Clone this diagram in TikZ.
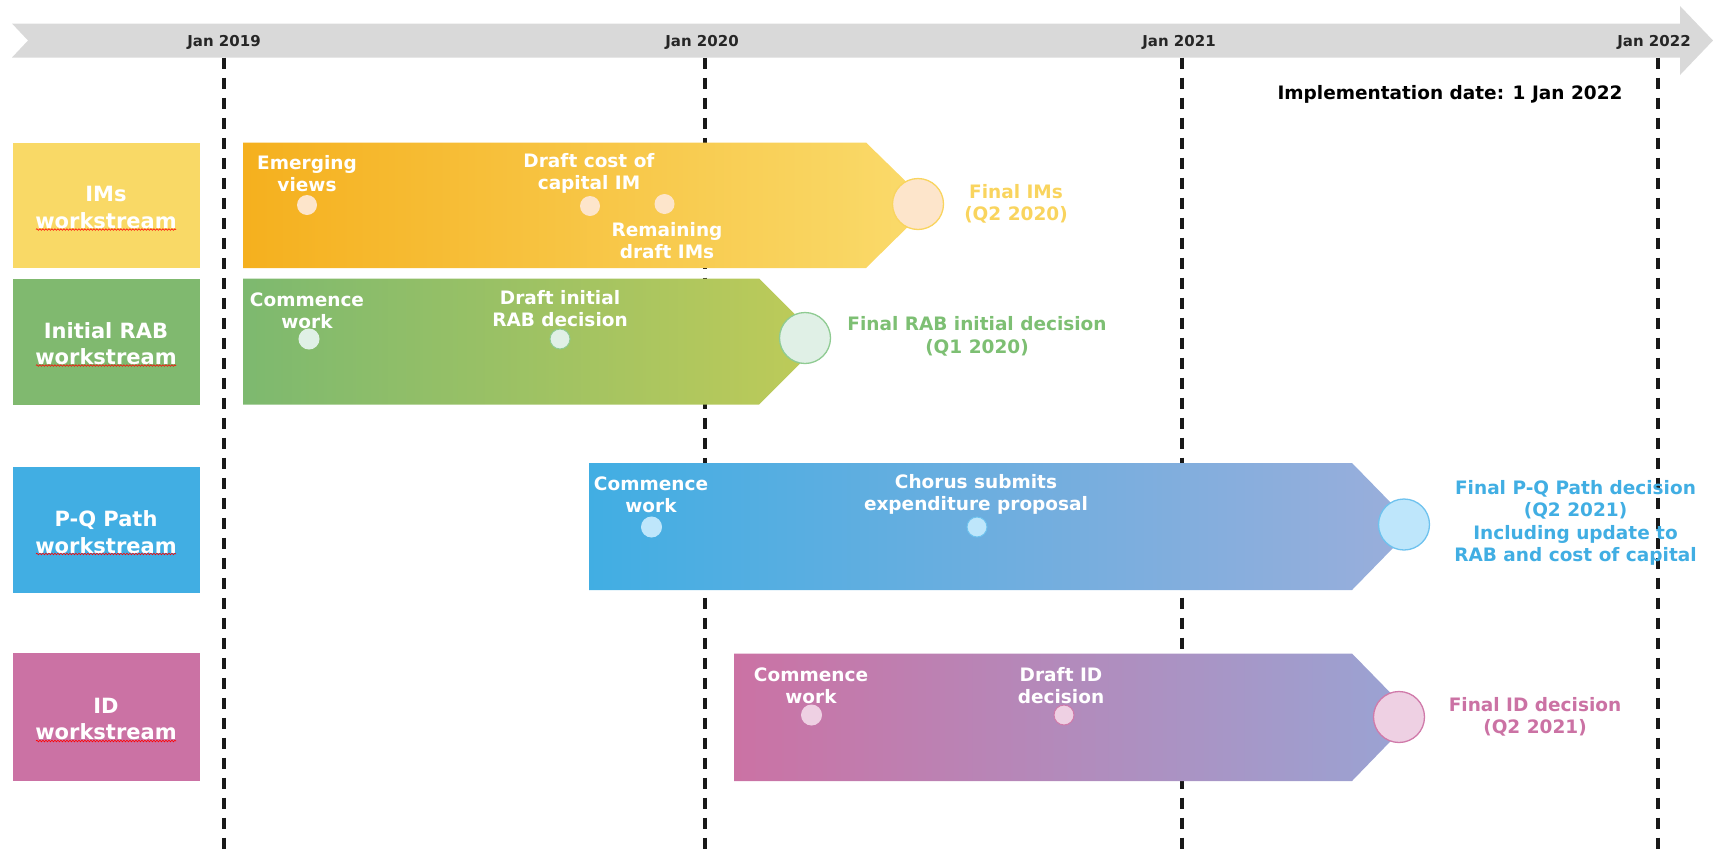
\documentclass[tikz,border=0pt]{standalone}
\usepackage{fontspec}
\setmainfont{DejaVu Sans}
\usetikzlibrary{calc,decorations.pathmorphing}
\definecolor{bandgray}{HTML}{D9D9D9}
\definecolor{imsbox}{HTML}{F9D966}
\definecolor{imsL}{HTML}{F5B01E}
\definecolor{imsR}{HTML}{FADB6C}
\definecolor{imstxt}{HTML}{F9D45E}
\definecolor{imsdot}{HTML}{FDE5CB}
\definecolor{rabbox}{HTML}{80B96F}
\definecolor{rabL}{HTML}{7DB96F}
\definecolor{rabR}{HTML}{BFCB58}
\definecolor{rabtxt}{HTML}{7DBF73}
\definecolor{rabdot}{HTML}{E0F0E6}
\definecolor{rabline}{HTML}{8FCB92}
\definecolor{pqbox}{HTML}{41AEE3}
\definecolor{pqL}{HTML}{41AEE3}
\definecolor{pqR}{HTML}{9BAEDB}
\definecolor{pqtxt}{HTML}{41AEE3}
\definecolor{pqdot}{HTML}{BEE6FB}
\definecolor{pqline}{HTML}{6EC2EE}
\definecolor{idbox}{HTML}{CB72A4}
\definecolor{idL}{HTML}{CB72A4}
\definecolor{idR}{HTML}{99A4D4}
\definecolor{idtxt}{HTML}{CB72A4}
\definecolor{iddot}{HTML}{EED0E3}
\definecolor{idline}{HTML}{D07AAA}
\begin{document}
\begin{tikzpicture}[x=1pt,y=-1pt,
  jan/.style={font=\fontsize{15}{18}\selectfont\bfseries, text=black!85, inner sep=0pt},
  vline/.style={line width=3.2pt, dash pattern=on 11pt off 9pt, black!90},
  lbl/.style={font=\fontsize{21}{26.5}\selectfont\bfseries, text=white, align=center, inner sep=0pt},
  intxt/.style={font=\fontsize{18.5}{22}\selectfont\bfseries, text=white, align=center, inner sep=0pt},
  outtxt/.style={font=\fontsize{18.5}{22.5}\selectfont\bfseries, align=center, inner sep=0pt},
  dot/.style={circle, minimum size=20pt, inner sep=0pt, line width=1pt},
  bigdot/.style={circle, minimum size=51pt, inner sep=0pt, line width=1.3pt},
  wavy/.style={red, line width=0.6pt, decorate, decoration={snake, amplitude=0.8pt, segment length=3pt}}
]
\useasboundingbox (0,0) rectangle (1713,857);
% timeline band
\fill[bandgray] (12,23.5) -- (1680,23.5) -- (1680,6) -- (1713,40.5) -- (1680,75) -- (1680,57.5) -- (12,57.5) -- (28,40.5) -- cycle;
\node[jan] (j19) at (224,42) {Jan 2019};
\node[jan] (j20) at (702,42) {Jan 2020};
\node[jan] (j21) at (1179,42) {Jan 2021};
\node[jan] (j22) at (1654,42) {Jan 2022};
% dashed lines
\coordinate (d19a) at (224,57.5); \coordinate (d19b) at (224,857);
\coordinate (d20a) at (705,57.5); \coordinate (d20b) at (705,857);
\coordinate (d21a) at (1182,57.5); \coordinate (d21b) at (1182,857);
\coordinate (d22a) at (1658,57.5); \coordinate (d22b) at (1658,857);
\draw[vline] (d19a) -- (d19b);
\draw[vline] (d20a) -- (d20b);
\draw[vline] (d21a) -- (d21b);
\draw[vline] (d22a) -- (d22b);
\node[font=\fontsize{18.5}{22}\selectfont\bfseries, inner sep=0pt] (impl) at (1450,94) {Implementation date: 1 Jan 2022};
% left boxes
\fill[imsbox] (13,142.5) rectangle (200,268);
\fill[rabbox] (13,278.5) rectangle (200,404.5);
\fill[pqbox] (13,466.5) rectangle (200,592.5);
\fill[idbox] (13,653) rectangle (200,781);
\node[lbl] (lims) at (106,207.5) {IMs\\workstream};
\node[lbl] (lrab) at (106,343.5) {Initial RAB\\workstream};
\node[lbl] (lpq) at (106,532) {P-Q Path\\workstream};
\node[lbl] (lid) at (106,719) {ID\\workstream};
\foreach \n in {lims,lrab,lpq,lid}{
  \draw[wavy] ($(\n.center)+(-70,22)$) -- ($(\n.center)+(70,22)$);
}
% bars
\shade[left color=imsL, right color=imsR] (243,142.5) -- (866,142.5) -- (930,205) -- (866,268) -- (243,268) -- cycle;
\shade[left color=rabL, right color=rabR] (243,278.5) -- (759,278.5) -- (822,341.5) -- (759,404.5) -- (243,404.5) -- cycle;
\shade[left color=pqL, right color=pqR] (589,463) -- (1352,463) -- (1414,526.5) -- (1352,590) -- (589,590) -- cycle;
\shade[left color=idL, right color=idR] (734,653.5) -- (1352,653.5) -- (1414,717) -- (1352,781) -- (734,781) -- cycle;
% IMs
\node[intxt] (t1) at (307,174) {Emerging\\views};
\node[dot, fill=imsdot] (c1) at (307,205) {};
\node[intxt] (t2) at (589,173) {Draft cost of\\capital IM};
\node[dot, fill=imsdot] (c2) at (590,206) {};
\node[intxt] (t3) at (667,241) {Remaining\\draft IMs};
\node[dot, fill=imsdot] (c3) at (664.5,204) {};
\node[bigdot, fill=imsdot, draw=imstxt] (c4) at (918,204) {};
\node[outtxt, text=imstxt] (t4) at (1016,204) {Final IMs\\(Q2 2020)};
% RAB
\node[intxt] (t5) at (307,310.5) {Commence\\work};
\node[dot, fill=rabdot, draw=rabdot] (c5) at (309,339) {};
\node[intxt] (t6) at (560,308.5) {Draft initial\\RAB decision};
\node[dot, fill=rabdot, draw=rabline] (c6) at (560,339) {};
\node[bigdot, fill=rabdot, draw=rabline] (c7) at (805,338) {};
\node[outtxt, text=rabtxt] (t7) at (977,336.5) {Final RAB initial decision\\(Q1 2020)};
% P-Q
\node[intxt] (t8) at (651,494.5) {Commence\\work};
\node[dot, fill=pqdot, draw=pqdot] (c8) at (651.5,527) {};
\node[intxt] (t9) at (976,494) {Chorus submits\\expenditure proposal};
\node[dot, fill=pqdot, draw=pqline] (c9) at (977,527) {};
\node[bigdot, fill=pqdot, draw=pqline] (c10) at (1404,524.5) {};
\node[outtxt, text=pqtxt] (t10) at (1575.5,523) {Final P-Q Path decision\\(Q2 2021)\\Including update to\\RAB and cost of capital};
% ID
\node[intxt] (t11) at (811,686) {Commence\\work};
\node[dot, fill=iddot, draw=iddot] (c11) at (811.5,715) {};
\node[intxt] (t12) at (1061,686) {Draft ID\\decision};
\node[dot, fill=iddot, draw=idline] (c12) at (1064,715) {};
\node[bigdot, fill=iddot, draw=idline] (c13) at (1399,717) {};
\node[outtxt, text=idtxt] (t13) at (1535,717) {Final ID decision\\(Q2 2021)};
\end{tikzpicture}
\end{document}
